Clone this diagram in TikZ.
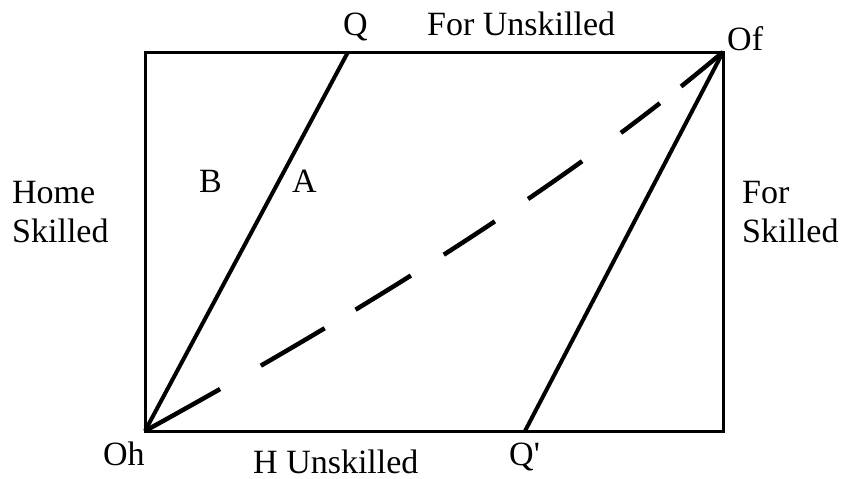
\documentclass[tikz,border=0pt]{standalone}
\usepackage{fontspec}
\setmainfont{Liberation Serif}
\begin{document}
\begin{tikzpicture}[x=1pt,y=-1pt,
  lbl/.style={inner sep=0pt,anchor=base west,font=\fontsize{34}{39}\selectfont},
  frame/.style={line width=3pt,line join=miter},
  solidline/.style={line width=4pt},
  dashline/.style={line width=4.5pt,dash pattern=on 86pt off 47pt on 74pt off 36pt on 65pt off 39pt on 61pt off 40pt on 66pt off 48pt on 49pt off 27pt on 80pt off 100pt}]
\useasboundingbox (0,0) rectangle (846,479);
\coordinate (oh) at (145,431);
\coordinate (tl) at (145,52);
\coordinate (of) at (723,52);
\coordinate (br) at (723,431);
\coordinate (q) at (348,52);
\coordinate (qp) at (525,431);
\draw[frame] (oh) -- (tl) -- (of) -- (br) -- cycle;
\draw[solidline] (oh) -- (q);
\draw[solidline] (qp) -- (of);
\draw[dashline] (oh) .. controls (350,318) and (560,190) .. (of);
\node[lbl] (lq) at (343,35) {Q};
\node[lbl] (lfu) at (427,35) {For Unskilled};
\node[lbl] (lof) at (727,50) {Of};
\node[lbl] (loh) at (103,465) {Oh};
\node[lbl] (lhu) at (253,473) {H Unskilled};
\node[lbl] (lqp) at (509,465) {Q\textquotesingle};
\node[lbl,align=left] (lhs) at (12,242) {Home\\Skilled};
\node[lbl,align=left] (lfs) at (742,242) {For\\Skilled};
\node[lbl] (lb) at (199,192) {B};
\node[lbl] (la) at (292,192) {A};
\end{tikzpicture}
\end{document}
